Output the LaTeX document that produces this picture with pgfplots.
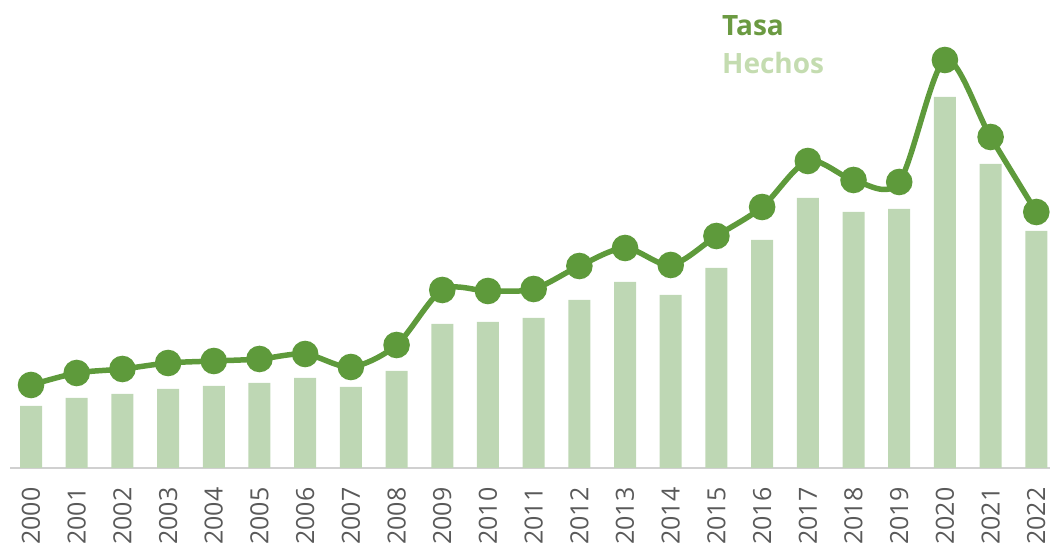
\documentclass[border=0pt]{standalone}
\usepackage{pgfplots}
\pgfplotsset{compat=1.18}
\usepackage{fontspec}
\setmainfont{Open Sans}
\definecolor{linegreen}{HTML}{5E9A3B}
\definecolor{bargreen}{HTML}{BED7B4}
\definecolor{tasacol}{HTML}{6B9A42}
\definecolor{hechoscol}{HTML}{C4DCB0}
\definecolor{tickgray}{HTML}{595959}
\definecolor{axisgray}{HTML}{D0D0D0}
\begin{document}
\begin{tikzpicture}
\useasboundingbox (0,0) rectangle (1052pt,548pt);
\begin{axis}[
  at={(10pt,80pt)}, anchor=south west,
  scale only axis, width=1040pt, height=468pt,
  xmin=-0.46, xmax=22.3, ymin=0, ymax=468,
  axis x line=bottom, axis y line=none,
  x axis line style={axisgray, line width=1.5pt, -},
  xtick={0,...,22},
  xticklabels={2000,2001,2002,2003,2004,2005,2006,2007,2008,2009,2010,2011,2012,2013,2014,2015,2016,2017,2018,2019,2020,2021,2022},
  major tick length=0pt,
  xticklabel shift=16pt,
  x tick label style={rotate=90, anchor=east, text=tickgray, font=\fontsize{25}{25}\selectfont},
  /pgf/number format/assume math mode=true,
  clip=false,
]
\addplot[ybar, bar width=22pt, fill=bargreen, draw=none] coordinates {
(0,62) (1,70) (2,74) (3,79) (4,82) (5,85) (6,90) (7,81) (8,97) (9,144) (10,146) (11,150)
(12,168) (13,186) (14,173) (15,200) (16,228) (17,270) (18,256) (19,259) (20,371) (21,304) (22,237)};
\addplot[smooth, tension=0.5, color=linegreen, line width=5.5pt, mark=*, mark size=10.5pt,
  mark options={fill=linegreen, draw=none}] coordinates {
(0,83) (1,95) (2,99) (3,105) (4,107) (5,109) (6,114) (7,101) (8,123) (9,178) (10,177) (11,179)
(12,202) (13,220) (14,203) (15,232) (16,261) (17,307) (18,288) (19,286) (20,408) (21,331) (22,256)};
\node[anchor=west, text=tasacol, font=\bfseries\fontsize{28}{28}\selectfont, inner sep=0pt] at (axis cs:15.12,442) {Tasa};
\node[anchor=west, text=hechoscol, font=\bfseries\fontsize{28}{28}\selectfont, inner sep=0pt] at (axis cs:15.12,405) {Hechos};
\end{axis}
\end{tikzpicture}
\end{document}
